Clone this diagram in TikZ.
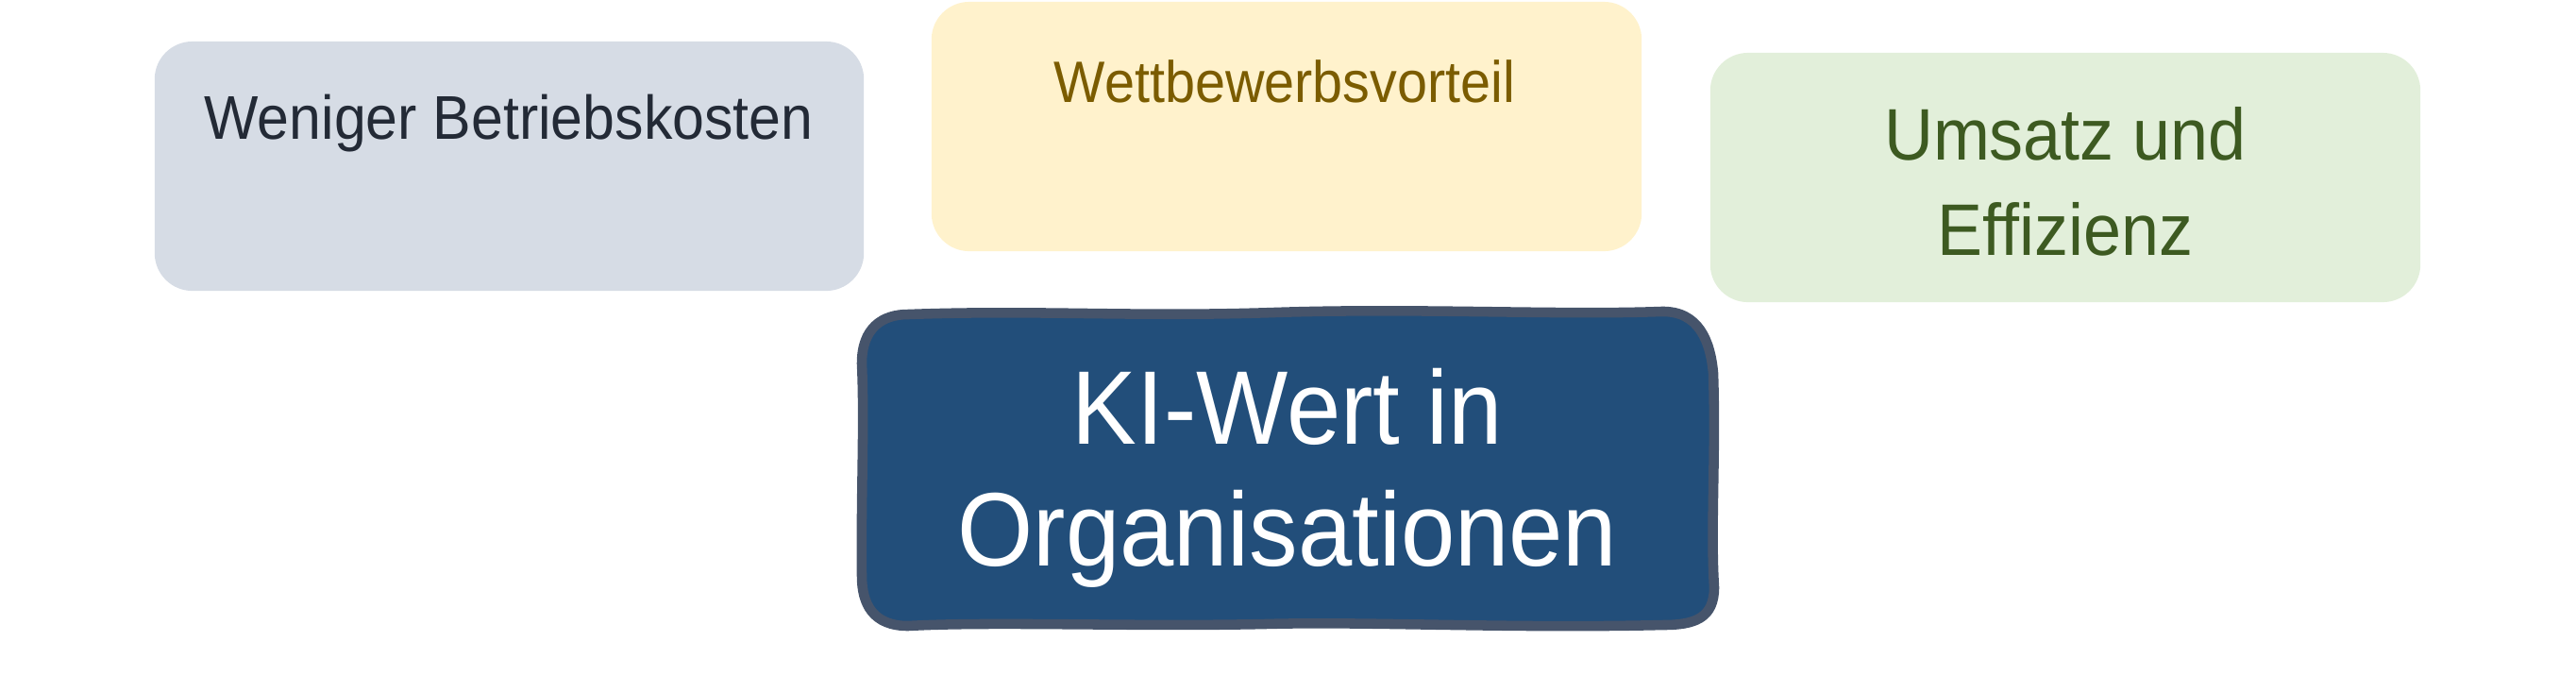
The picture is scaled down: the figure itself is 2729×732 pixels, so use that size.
\documentclass[tikz,border=0pt]{standalone}
\usepackage{fontspec}
\setmainfont{Liberation Sans}
\definecolor{greyfill}{HTML}{D6DCE5}
\definecolor{greytext}{HTML}{232A36}
\definecolor{yellowfill}{HTML}{FFF2CC}
\definecolor{yellowtext}{HTML}{7B5C00}
\definecolor{greenfill}{HTML}{E2EFDA}
\definecolor{greentext}{HTML}{3D5A21}
\definecolor{bluefill}{HTML}{224E7A}
\definecolor{blueborder}{HTML}{46546B}
\tikzset{
  softbox/.style={rounded corners=0.4cm, inner sep=0pt, draw=none},
  labeltext/.style={align=center, inner sep=0pt},
}
\begin{document}
\begin{tikzpicture}[x=0.01cm,y=-0.01cm]
\useasboundingbox (0,0) rectangle (2729,732);
% outer boxes
\node[softbox, fill=greyfill, minimum width=7.51cm, minimum height=2.64cm] (costbox) at (539.5,176) {};
\node[softbox, fill=yellowfill, minimum width=7.52cm, minimum height=2.64cm] (compbox) at (1363,134) {};
\node[softbox, fill=greenfill, minimum width=7.52cm, minimum height=2.64cm] (revbox) at (2188,188) {};
% texts
\node[labeltext, text=greytext, font=\fontsize{18.6}{22}\selectfont, xscale=0.93] (costtext) at (539,131) {Weniger Betriebskosten};
\node[labeltext, text=yellowtext, font=\fontsize{17.6}{21}\selectfont, xscale=0.93] (comptext) at (1361,86) {Wettbewerbsvorteil};
\node[labeltext, text=greentext, font=\fontsize{22}{28.7}\selectfont, xscale=0.93] (revtext) at (2188,192) {Umsatz und\\Effizienz};
% central box
\node[inner sep=0pt, minimum width=9.0cm, minimum height=3.3cm] (corebox) at (1364,496) {};
\filldraw[fill=bluefill, draw=blueborder, line width=3pt, line join=round]
  (962,333) .. controls (1100,328) and (1200,336) .. (1350,331)
  .. controls (1500,326) and (1650,334) .. (1760,330)
  .. controls (1800,329) and (1812,362) .. (1815,395)
  .. controls (1818,480) and (1812,560) .. (1816,622)
  .. controls (1816,655) and (1795,662) .. (1762,662)
  .. controls (1600,666) and (1450,658) .. (1340,661)
  .. controls (1200,664) and (1050,658) .. (962,663)
  .. controls (925,663) and (913,640) .. (913,610)
  .. controls (912,520) and (916,450) .. (913,385)
  .. controls (913,347) and (935,333) .. (962,333) -- cycle;
\node[labeltext, text=white, font=\fontsize{31.5}{36.7}\selectfont, xscale=0.93] (coretext) at (1364,506) {KI-Wert in\\Organisationen};
\end{tikzpicture}
\end{document}
